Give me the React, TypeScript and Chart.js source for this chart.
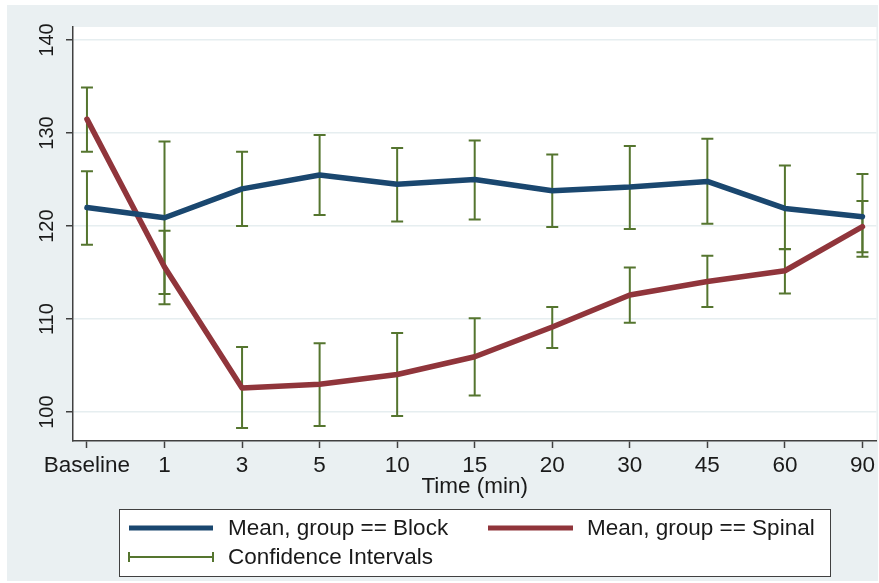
import React, { useEffect, useRef } from "react";
import { Chart, registerables } from "chart.js";

Chart.register(...registerables);

const categories = ["Baseline", "1", "3", "5", "10", "15", "20", "30", "45", "60", "90"];
const blockMean = [122.0, 120.9, 124.0, 125.5, 124.5, 125.0, 123.8, 124.2, 124.8, 121.9, 121.0];
const blockLow = [118.0, 112.7, 120.0, 121.2, 120.5, 120.7, 119.9, 119.7, 120.25, 117.5, 116.7];
const blockHigh = [125.9, 129.1, 128.0, 129.8, 128.4, 129.2, 127.7, 128.6, 129.4, 126.5, 125.6];
const spinalMean = [131.5, 115.6, 102.6, 103.0, 104.05, 105.95, 109.15, 112.6, 114.05, 115.2, 119.95];
const spinalLow = [128.0, 111.6, 98.3, 98.5, 99.6, 101.8, 106.9, 109.6, 111.3, 112.75, 117.2];
const spinalHigh = [134.9, 119.5, 107.0, 107.4, 108.5, 110.1, 111.3, 115.55, 116.8, 117.55, 122.7];
const yTicks = [100, 110, 120, 130, 140];

const BLUE = "#1a476f";
const RED = "#90353b";
const GREEN = "#55752f";
const FONT = '"Liberation Sans", Arial, sans-serif';
const TEXT = "#1a1a1a";

export default function App() {
  const ref = useRef<HTMLCanvasElement | null>(null);

  useEffect(() => {
    const canvas = ref.current;
    if (!canvas) return;

    const bgPlugin = {
      id: "bg",
      beforeDraw(chart: any) {
        const { ctx, chartArea } = chart;
        ctx.save();
        ctx.fillStyle = "#ffffff";
        ctx.fillRect(0, 0, chart.width, chart.height);
        ctx.fillStyle = "#eaf0f2";
        ctx.fillRect(7, 5, 871, 576);
        ctx.fillStyle = "#ffffff";
        ctx.fillRect(chartArea.left, chartArea.top, chartArea.right - chartArea.left, chartArea.bottom - chartArea.top);
        ctx.restore();
      },
    };

    const ciPlugin = {
      id: "ci",
      beforeDatasetsDraw(chart: any) {
        const { ctx, scales } = chart;
        const xs = scales.x;
        const ys = scales.y;
        ctx.save();
        ctx.strokeStyle = GREEN;
        ctx.lineWidth = 2;
        const drawBars = (low: number[], high: number[]) => {
          low.forEach((lo, i) => {
            const px = xs.getPixelForValue(i);
            const y1 = ys.getPixelForValue(lo);
            const y2 = ys.getPixelForValue(high[i]);
            ctx.beginPath();
            ctx.moveTo(px, y1);
            ctx.lineTo(px, y2);
            ctx.moveTo(px - 6, y1);
            ctx.lineTo(px + 6, y1);
            ctx.moveTo(px - 6, y2);
            ctx.lineTo(px + 6, y2);
            ctx.stroke();
          });
        };
        drawBars(blockLow, blockHigh);
        drawBars(spinalLow, spinalHigh);
        ctx.restore();
      },
    };

    const yLabelPlugin = {
      id: "ylabels",
      afterDraw(chart: any) {
        const { ctx, scales } = chart;
        const ys = scales.y;
        ctx.save();
        ctx.fillStyle = TEXT;
        ctx.font = `20px ${FONT}`;
        ctx.textAlign = "center";
        ctx.textBaseline = "middle";
        ys.ticks.forEach((t: any) => {
          const py = ys.getPixelForValue(t.value);
          ctx.save();
          ctx.translate(47, py);
          ctx.rotate(-Math.PI / 2);
          ctx.fillText(String(t.value), 0, 0);
          ctx.restore();
        });
        ctx.restore();
      },
    };

    const legendPlugin = {
      id: "customLegend",
      afterDraw(chart: any) {
        const { ctx } = chart;
        const ds = chart.data.datasets;
        ctx.save();
        ctx.fillStyle = "#ffffff";
        ctx.fillRect(119, 509, 711, 67);
        ctx.strokeStyle = "#404040";
        ctx.lineWidth = 1;
        ctx.strokeRect(119.5, 509.5, 711, 67);
        ctx.font = `22.5px ${FONT}`;
        ctx.textBaseline = "middle";
        ctx.textAlign = "left";
        ctx.lineCap = "butt";
        // row 1
        ctx.strokeStyle = ds[0].borderColor;
        ctx.lineWidth = 5;
        ctx.beginPath();
        ctx.moveTo(129, 528);
        ctx.lineTo(213, 528);
        ctx.stroke();
        ctx.fillStyle = TEXT;
        ctx.fillText(ds[0].label, 228, 529);
        ctx.strokeStyle = ds[1].borderColor;
        ctx.beginPath();
        ctx.moveTo(488, 528);
        ctx.lineTo(573, 528);
        ctx.stroke();
        ctx.fillText(ds[1].label, 587, 529);
        // row 2
        ctx.strokeStyle = GREEN;
        ctx.lineWidth = 2;
        ctx.beginPath();
        ctx.moveTo(129, 557);
        ctx.lineTo(213, 557);
        ctx.moveTo(129, 552);
        ctx.lineTo(129, 562);
        ctx.moveTo(213, 552);
        ctx.lineTo(213, 562);
        ctx.stroke();
        ctx.fillText("Confidence Intervals", 228, 558);
        ctx.restore();
      },
    };

    const chart = new Chart(canvas, {
      type: "line",
      data: {
        datasets: [
          {
            label: "Mean, group == Block",
            data: blockMean.map((v, i) => ({ x: i, y: v })),
            borderColor: BLUE,
            borderWidth: 5.5,
            pointRadius: 0,
            tension: 0,
            borderJoinStyle: "round",
            borderCapStyle: "round",
          },
          {
            label: "Mean, group == Spinal",
            data: spinalMean.map((v, i) => ({ x: i, y: v })),
            borderColor: RED,
            borderWidth: 5.5,
            pointRadius: 0,
            tension: 0,
            borderJoinStyle: "round",
            borderCapStyle: "round",
          },
        ],
      },
      options: {
        responsive: false,
        animation: false,
        devicePixelRatio: 1,
        layout: { padding: { left: 0, top: 27, right: 2, bottom: 72 } },
        plugins: {
          legend: { display: false },
          tooltip: { enabled: false },
        },
        scales: {
          x: {
            type: "linear",
            min: -0.18,
            max: 10.18,
            afterBuildTicks(scale: any) {
              scale.ticks = categories.map((_, i) => ({ value: i }));
            },
            afterFit(scale: any) {
              scale.height = 70;
            },
            ticks: {
              callback: (v: any) => categories[v as number] ?? "",
              font: { family: FONT, size: 22.5 },
              color: TEXT,
              padding: 4,
              maxRotation: 0,
              autoSkip: false,
            },
            grid: {
              drawOnChartArea: false,
              drawTicks: true,
              tickLength: 7,
              tickColor: "#404040",
              tickWidth: 1.5,
            },
            border: { color: "#404040", width: 1.5 },
            title: {
              display: true,
              text: "Time (min)",
              font: { family: FONT, size: 22.5 },
              color: TEXT,
              padding: { top: 0, bottom: 11 },
            },
          },
          y: {
            type: "linear",
            min: 96.9,
            max: 141.4,
            afterBuildTicks(scale: any) {
              scale.ticks = yTicks.map((v) => ({ value: v }));
            },
            afterFit(scale: any) {
              scale.width = 73;
            },
            ticks: { display: false },
            grid: {
              color: "#e6eef0",
              lineWidth: 1.5,
              drawTicks: true,
              tickLength: 7,
              tickColor: "#404040",
              tickWidth: 1.5,
            },
            border: { color: "#404040", width: 1.5 },
          },
        },
      },
      plugins: [bgPlugin, ciPlugin, yLabelPlugin, legendPlugin],
    } as any);

    return () => chart.destroy();
  }, []);

  return (
    <div style={{ position: "absolute", left: 0, top: 0, width: 879, height: 583 }}>
      <canvas ref={ref} width={879} height={583} style={{ display: "block" }} />
    </div>
  );
}
